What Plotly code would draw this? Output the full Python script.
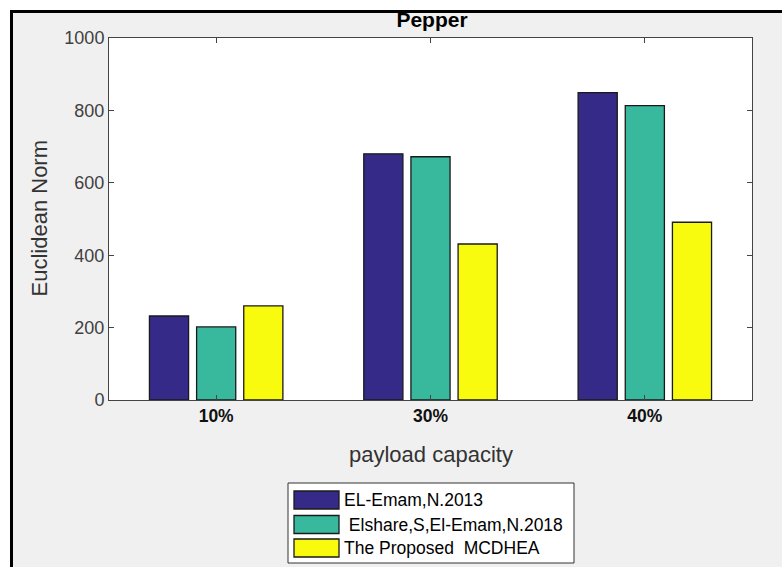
import plotly.graph_objects as go

categories = ["10%", "30%", "40%"]
series_names = ["EL-Emam,N.2013", " Elshare,S,El-Emam,N.2018", "The Proposed  MCDHEA"]
el_emam_2013 = [232, 680, 849]
elshare_2018 = [202, 672, 813]
proposed_mcdhea = [260, 431, 491]
series_values = [el_emam_2013, elshare_2018, proposed_mcdhea]
colors = ["#352A87", "#38B99E", "#F9FB0E"]
y_ticks = [0, 200, 400, 600, 800, 1000]

W, H = 782, 567
L, R, T, B = 109, 30, 38, 167
PW, PH = W - L - R, H - T - B


def px(x):
    return (x - L) / PW


def py(y):
    return (H - B - y) / PH


FONT = "Liberation Sans, Arial, Helvetica, sans-serif"

fig = go.Figure()
for name, vals, col in zip(series_names, series_values, colors):
    fig.add_trace(go.Bar(
        x=categories, y=vals, name=name,
        marker=dict(color=col, line=dict(color="#1a1a1a", width=1.3)),
        showlegend=False,
    ))

shapes = []
annotations = []
# outer frame: white strips and black border lines
shapes.append(dict(type="rect", xref="paper", yref="paper", x0=px(0), x1=px(W), y0=py(10), y1=py(0),
                   fillcolor="white", line=dict(width=0), layer="below"))
shapes.append(dict(type="rect", xref="paper", yref="paper", x0=px(0), x1=px(10), y0=py(H), y1=py(0),
                   fillcolor="white", line=dict(width=0), layer="below"))
shapes.append(dict(type="line", xref="paper", yref="paper", x0=px(10), x1=px(W), y0=py(11.5), y1=py(11.5),
                   line=dict(color="black", width=3)))
shapes.append(dict(type="line", xref="paper", yref="paper", x0=px(11.5), x1=px(11.5), y0=py(10), y1=py(H),
                   line=dict(color="black", width=3)))

# custom legend
shapes.append(dict(type="rect", xref="paper", yref="paper", x0=px(288), x1=px(574), y0=py(563), y1=py(483),
                   fillcolor="white", line=dict(color="#333333", width=1)))
row_centers = [500, 524.5, 548]
for name, col, yc in zip(series_names, colors, row_centers):
    shapes.append(dict(type="rect", xref="paper", yref="paper", x0=px(294), x1=px(339),
                       y0=py(yc + 9), y1=py(yc - 9), fillcolor=col,
                       line=dict(color="#1a1a1a", width=1.3)))
    annotations.append(dict(text=name.replace("  ", "&nbsp; ").replace(" Els", "&nbsp;Els"),
                            xref="paper", yref="paper", x=px(342), y=py(yc),
                            xanchor="left", yanchor="middle", showarrow=False,
                            font=dict(family=FONT, size=17.5, color="black")))

# axis titles
annotations.append(dict(text="payload capacity", xref="paper", yref="paper", x=px(431), y=py(455),
                        xanchor="center", yanchor="middle", showarrow=False,
                        font=dict(family=FONT, size=22, color="#333333")))
annotations.append(dict(text="Euclidean Norm", xref="paper", yref="paper", x=px(39), y=py(218.5),
                        xanchor="center", yanchor="middle", showarrow=False, textangle=-90,
                        font=dict(family=FONT, size=22, color="#333333")))

fig.update_layout(
    width=W, height=H,
    margin=dict(l=L, r=R, t=T, b=B),
    paper_bgcolor="#F0F0F0",
    plot_bgcolor="white",
    barmode="group",
    bargap=0.34,
    bargroupgap=0.17,
    title=dict(text="<b>Pepper</b>", x=px(432), xref="paper", xanchor="center",
               y=1 - 19.5 / H, yref="container", yanchor="middle",
               font=dict(family=FONT, size=21, color="black")),
    shapes=shapes,
    annotations=annotations,
    font=dict(family=FONT),
)
fig.update_xaxes(
    range=[-0.5, 2.5], showline=True, linecolor="#444444", linewidth=1, mirror="ticks",
    ticks="inside", ticklen=5, tickcolor="#444444",
    tickfont=dict(family=FONT, size=17.5, color="#111111", weight="bold"),
    showgrid=False, zeroline=False,
)
fig.update_yaxes(
    range=[0, 1000], tickvals=y_ticks, showline=True, linecolor="#444444", linewidth=1, mirror="ticks",
    ticks="inside", ticklen=5, tickcolor="#444444",
    tickfont=dict(family=FONT, size=18, color="#404040"),
    showgrid=False, zeroline=False,
)

fig.write_html("out.html", config={"displayModeBar": False},
               post_script="document.body.style.margin='0px';")
